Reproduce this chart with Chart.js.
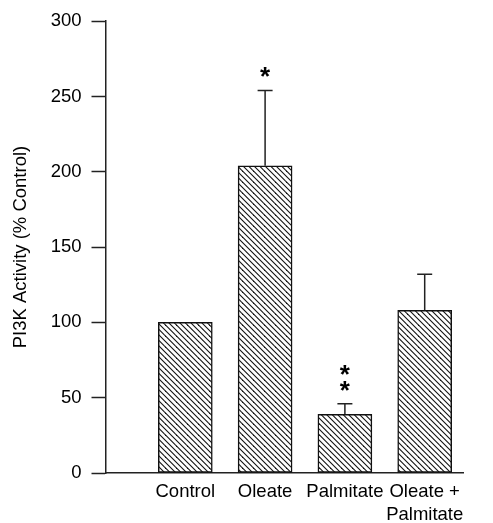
<!DOCTYPE html>
<html>
<head>
<meta charset="utf-8">
<script src="https://cdn.jsdelivr.net/npm/chart.js@4"></script>
<style>
  html, body { margin: 0; padding: 0; background: #fff; }
  canvas { display: block; }
</style>
</head>
<body>
<canvas id="myChart" width="493" height="523"></canvas>
<script>
const categories = ["Control", "Oleate", "Palmitate", "Oleate + Palmitate"];
const activity = [100, 204, 39, 108];
const errors = [0, 50, 7, 24];
const stars = ["", "*", "**", ""];
const yTicks = [0, 50, 100, 150, 200, 250, 300];

const FONT = "'Liberation Sans', Arial, sans-serif";

function hatchPattern() {
    const c = document.createElement("canvas");
    c.width = 11;
    c.height = 11;
    const g = c.getContext("2d");
    g.fillStyle = "#fff";
    g.fillRect(0, 0, 11, 11);
    g.strokeStyle = "#111";
    g.lineWidth = 1.1;
    [-11, -5.5, 0, 5.5, 11].forEach(function (o) {
        g.beginPath();
        g.moveTo(o - 1, -1);
        g.lineTo(o + 12, 12);
        g.stroke();
    });
    return g.createPattern(c, "repeat");
}

const errorBars = {
    id: "errorBars",
    afterDatasetsDraw(chart) {
        const ctx = chart.ctx;
        const xs = chart.scales.x;
        const ys = chart.scales.y;
        ctx.save();
        ctx.strokeStyle = "#222";
        ctx.lineWidth = 1.5;
        activity.forEach(function (v, i) {
            const x = xs.getPixelForValue(i + 1);
            const yBar = ys.getPixelForValue(v);
            const yTop = ys.getPixelForValue(v + errors[i]);
            if (errors[i] > 0) {
                ctx.beginPath();
                ctx.moveTo(x, yBar);
                ctx.lineTo(x, yTop);
                ctx.moveTo(x - 7.5, yTop);
                ctx.lineTo(x + 7.5, yTop);
                ctx.stroke();
            }
            ctx.fillStyle = "#000";
            ctx.font = "bold 26px " + FONT;
            ctx.textAlign = "center";
            ctx.textBaseline = "alphabetic";
            for (let k = 0; k < stars[i].length; k++) {
                const cy = yTop - 18 - k * 16;
                ctx.fillText("*", x, cy + 13);
            }
        });
        ctx.restore();
    },
};

document.addEventListener("DOMContentLoaded", function () {
    const ctx = document.getElementById("myChart").getContext("2d");

    new Chart(ctx, {
        type: "bar",
        data: {
            datasets: [
                {
                    data: activity.map(function (v, i) { return { x: i + 1, y: v }; }),
                    backgroundColor: hatchPattern(),
                    borderColor: "#111",
                    borderWidth: 1.5,
                    borderSkipped: false,
                    barThickness: 54,
                },
            ],
        },
        options: {
            responsive: false,
            animation: false,
            layout: { padding: { left: 0, right: 30, top: 21, bottom: 0 } },
            plugins: {
                legend: { display: false },
                tooltip: { enabled: false },
            },
            scales: {
                x: {
                    type: "linear",
                    offset: false,
                    min: 0,
                    max: 4.48,
                    afterBuildTicks: function (axis) {
                        axis.ticks = categories.map(function (c, i) { return { value: i + 1 }; });
                    },
                    afterFit: function (axis) { axis.height = 50; },
                    grid: { display: false, drawTicks: false },
                    border: { display: true, color: "#222", width: 1.5 },
                    ticks: {
                        color: "#000",
                        padding: 7,
                        maxRotation: 0,
                        autoSkip: false,
                        font: { family: FONT, size: 18.5, lineHeight: 1.25 },
                        callback: function (v) {
                            const label = categories[v - 1] || "";
                            return label.includes(" + ") ? label.replace(" + ", " +|").split("|") : label;
                        },
                    },
                },
                y: {
                    min: 0,
                    max: 300,
                    afterBuildTicks: function (axis) {
                        axis.ticks = yTicks.map(function (v) { return { value: v }; });
                    },
                    afterFit: function (axis) { axis.width = 105.5; },
                    grid: {
                        drawOnChartArea: false,
                        drawTicks: true,
                        tickLength: 14,
                        tickWidth: 1.5,
                        tickColor: "#222",
                    },
                    border: { display: true, color: "#222", width: 1.5 },
                    ticks: {
                        color: "#000",
                        padding: 10,
                        font: { family: FONT, size: 18.5 },
                    },
                    title: {
                        display: true,
                        text: "PI3K Activity (% Control)",
                        color: "#000",
                        padding: { top: 10, bottom: 0 },
                        font: { family: FONT, size: 18.5 },
                    },
                },
            },
        },
        plugins: [errorBars],
    });
});
</script>
</body>
</html>
